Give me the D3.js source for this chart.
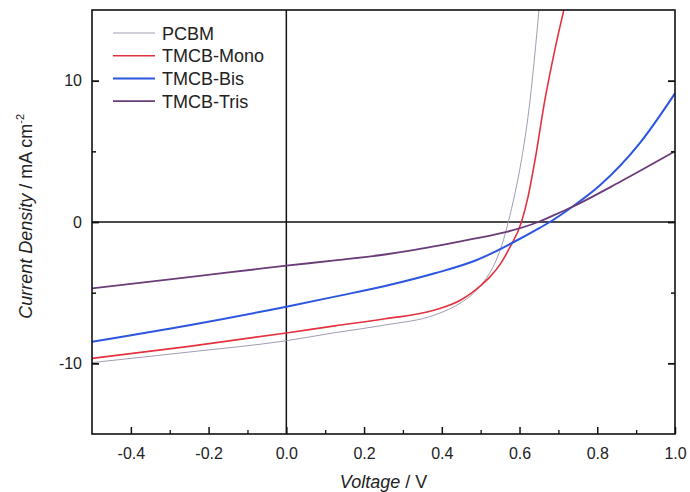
<!DOCTYPE html>
<html>
<head>
<meta charset="utf-8">
<script src="https://cdn.jsdelivr.net/npm/d3@7"></script>
<style>
  body { margin: 0; background: #fff; }
  svg { font-family: "Liberation Sans", Arial, sans-serif; }
</style>
</head>
<body>
<svg id="svgChart" width="690" height="492"></svg>
<script>
// J-V curves (V in volts, J in mA cm^-2)
var seriesNames = ["PCBM", "TMCB-Mono", "TMCB-Bis", "TMCB-Tris"];
var seriesColors = ["#a29cb0", "#e2323f", "#2c55e0", "#6a3c78"];
var seriesWidths = [1, 1.6, 2, 1.8];

var pcbmV = [-0.5, -0.25, 0, 0.125, 0.254, 0.382, 0.42, 0.45, 0.475, 0.5, 0.52, 0.54, 0.555, 0.571, 0.588, 0.605, 0.627, 0.65];
var pcbmJ = [-9.95, -9.2, -8.4, -7.83, -7.29, -6.58, -6.15, -5.7, -5.2, -4.5, -3.75, -2.7, -1.6, 0, 2.0, 4.4, 8.6, 15];

var monoV = [-0.5, -0.25, 0, 0.125, 0.254, 0.382, 0.45, 0.475, 0.5, 0.525, 0.55, 0.575, 0.605, 0.622, 0.64, 0.665, 0.691, 0.714];
var monoJ = [-9.65, -8.8, -7.85, -7.35, -6.85, -6.23, -5.5, -5.05, -4.5, -3.85, -3.0, -1.8, 0, 1.8, 4.4, 8.6, 12.2, 15];

var bisV = [-0.5, -0.25, 0, 0.125, 0.254, 0.382, 0.49, 0.583, 0.653, 0.678, 0.735, 0.807, 0.91, 1.0];
var bisJ = [-8.47, -7.3, -5.99, -5.28, -4.53, -3.63, -2.69, -1.45, -0.4, 0, 1.06, 2.6, 5.6, 9.1];

var trisV = [-0.5, -0.25, 0, 0.125, 0.254, 0.33, 0.395, 0.48, 0.567, 0.648, 0.69, 0.735, 0.858, 1.0];
var trisJ = [-4.7, -3.9, -3.09, -2.72, -2.3, -1.98, -1.66, -1.2, -0.7, 0, 0.5, 1.06, 2.83, 5.0];

var xMajor = [-0.4, -0.2, 0, 0.2, 0.4, 0.6, 0.8, 1.0];
var xMinor = [-0.3, -0.1, 0.1, 0.3, 0.5, 0.7, 0.9];
var yMajor = [-10, 0, 10];
var yMinor = [-5, 5];

var allV = [pcbmV, monoV, bisV, trisV];
var allJ = [pcbmJ, monoJ, bisJ, trisJ];

var margin = {left: 92, right: 15, top: 10, bottom: 58};
var svg = d3.select("#svgChart");
var W = +svg.attr("width"), H = +svg.attr("height");

var x = d3.scaleLinear().domain([-0.5, 1.0]).range([margin.left, W - margin.right]);
var y = d3.scaleLinear().domain([-15, 15]).range([H - margin.bottom, margin.top]);

svg.append("defs").append("clipPath").attr("id", "plotClip")
  .append("rect")
  .attr("x", x(-0.5)).attr("y", y(15))
  .attr("width", x(1.0) - x(-0.5)).attr("height", y(-15) - y(15));

// zero lines
svg.append("line")
  .attr("x1", x(0)).attr("x2", x(0)).attr("y1", y(15)).attr("y2", y(-15))
  .attr("stroke", "#111").attr("stroke-width", 1.5);
svg.append("line")
  .attr("x1", x(-0.5)).attr("x2", x(1.0)).attr("y1", y(0)).attr("y2", y(0))
  .attr("stroke", "#111").attr("stroke-width", 1.5);

// curves
var line = d3.line()
  .x(function(d) { return x(d.v); })
  .y(function(d) { return y(d.j); })
  .curve(d3.curveMonotoneX);

var curves = svg.append("g").attr("clip-path", "url(#plotClip)");
for (let i = 0; i < seriesNames.length; i++) {
  let pts = allV[i].map(function(v, k) { return {v: v, j: allJ[i][k]}; });
  curves.append("path")
    .datum(pts)
    .attr("fill", "none")
    .attr("stroke", seriesColors[i])
    .attr("stroke-width", seriesWidths[i])
    .attr("stroke-linejoin", "round")
    .attr("d", line);
}

// axes (ticks inward)
svg.append("g")
  .attr("transform", "translate(0," + y(-15) + ")")
  .call(d3.axisBottom(x).tickValues(xMajor).tickSize(-7).tickPadding(14)
          .tickFormat(function(d) { return d.toFixed(1); }))
  .call(function(g) {
    g.select(".domain").remove();
    g.selectAll("line").attr("stroke", "#111").attr("stroke-width", 1.5);
    g.selectAll("text").attr("font-size", "16px").attr("fill", "#222")
      .attr("font-family", "Liberation Sans, Arial, sans-serif");
  });
svg.append("g")
  .attr("transform", "translate(0," + y(-15) + ")")
  .call(d3.axisBottom(x).tickValues(xMinor).tickSize(-4).tickFormat(""))
  .call(function(g) {
    g.select(".domain").remove();
    g.selectAll("line").attr("stroke", "#111").attr("stroke-width", 1.3);
  });

svg.append("g")
  .attr("transform", "translate(" + x(-0.5) + ",0)")
  .call(d3.axisLeft(y).tickValues(yMajor).tickSize(-7).tickPadding(10)
          .tickFormat(function(d) { return String(d); }))
  .call(function(g) {
    g.select(".domain").remove();
    g.selectAll("line").attr("stroke", "#111").attr("stroke-width", 1.8);
    g.selectAll("text").attr("font-size", "16px").attr("fill", "#222")
      .attr("font-family", "Liberation Sans, Arial, sans-serif");
  });
svg.append("g")
  .attr("transform", "translate(" + x(-0.5) + ",0)")
  .call(d3.axisLeft(y).tickValues(yMinor).tickSize(-4).tickFormat(""))
  .call(function(g) {
    g.select(".domain").remove();
    g.selectAll("line").attr("stroke", "#111").attr("stroke-width", 1.5);
  });
svg.append("g")
  .attr("transform", "translate(" + x(1.0) + ",0)")
  .call(d3.axisRight(y).tickValues(yMajor).tickSize(-7).tickFormat(""))
  .call(function(g) {
    g.select(".domain").remove();
    g.selectAll("line").attr("stroke", "#111").attr("stroke-width", 1.8);
  });
svg.append("g")
  .attr("transform", "translate(" + x(1.0) + ",0)")
  .call(d3.axisRight(y).tickValues(yMinor).tickSize(-4).tickFormat(""))
  .call(function(g) {
    g.select(".domain").remove();
    g.selectAll("line").attr("stroke", "#111").attr("stroke-width", 1.5);
  });

// frame
svg.append("rect")
  .attr("x", x(-0.5)).attr("y", y(15))
  .attr("width", x(1.0) - x(-0.5)).attr("height", y(-15) - y(15))
  .attr("fill", "none").attr("stroke", "#111").attr("stroke-width", 1.6);

// axis titles
var xt = svg.append("text")
  .attr("x", (x(-0.5) + x(1.0)) / 2).attr("y", 488)
  .attr("text-anchor", "middle").attr("font-size", "18px").attr("fill", "#222");
xt.append("tspan").attr("font-style", "italic").text("Voltage");
xt.append("tspan").text(" / V");

var yt = svg.append("text")
  .attr("transform", "translate(32," + y(0.4) + ") rotate(-90)")
  .attr("text-anchor", "middle").attr("font-size", "18px").attr("fill", "#222");
yt.append("tspan").attr("font-style", "italic").text("Current Density");
yt.append("tspan").text(" / mA cm");
yt.append("tspan").attr("font-size", "11px").attr("dy", "-8").text("-2");

// legend
var legend = svg.append("g");
for (let i = 0; i < seriesNames.length; i++) {
  let ly = 33 + i * 22.7;
  legend.append("line")
    .attr("x1", 113).attr("x2", 155).attr("y1", ly).attr("y2", ly)
    .attr("stroke", seriesColors[i]).attr("stroke-width", seriesWidths[i]);
  legend.append("text")
    .attr("x", 162).attr("y", ly + 6.5)
    .attr("font-size", "18px").attr("fill", "#222")
    .text(seriesNames[i]);
}
</script>
</body>
</html>
